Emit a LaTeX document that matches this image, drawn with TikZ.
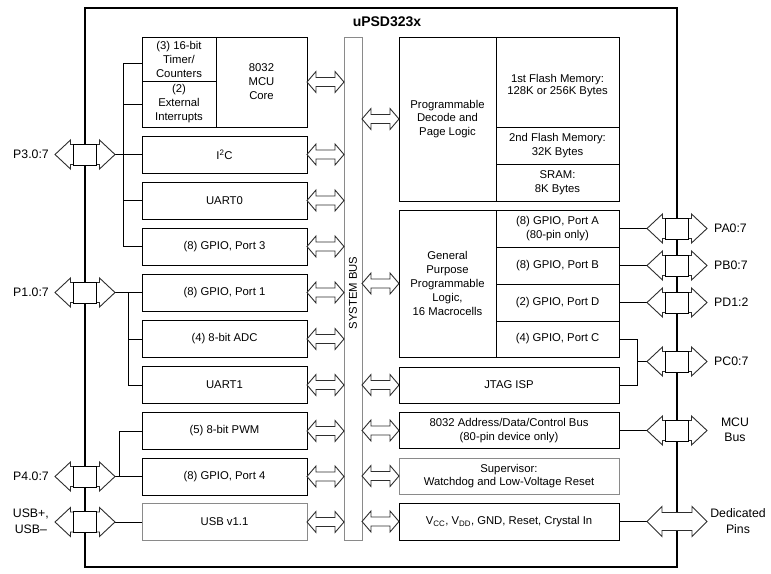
\documentclass[tikz,border=0pt]{standalone}
\usepackage{fontspec}
\setmainfont{Liberation Sans}
\usetikzlibrary{calc}
\definecolor{grayline}{HTML}{8A8A8A}
\definecolor{arrline}{HTML}{2E2E2E}
\newcommand\fs{\fontsize{11.3}{13.8}\selectfont}
\newcommand\fsp{\fontsize{12.3}{14.5}\selectfont}
% double block arrow: #1 style, #2 left point, #3 right point, #4 head length, #5 half head, #6 half shaft
\newcommand\dbar[6][]{%
  \path[blockarrow,#1] let \p1=#2, \p2=#3 in
    (\x1,\y1) -- (\x1+#4,\y1+#5) -- (\x1+#4,\y1+#6) -- (\x2-#4,\y1+#6) -- (\x2-#4,\y1+#5)
    -- (\x2,\y1) -- (\x2-#4,\y1-#5) -- (\x2-#4,\y1-#6) -- (\x1+#4,\y1-#6) -- (\x1+#4,\y1-#5) -- cycle;}
\newcommand\busarrow[2]{\dbar{#1}{#2}{9pt}{10.5pt}{4.5pt}}
\newcommand\pinarrow[2]{\dbar{#1}{#2}{15.5pt}{14.5pt}{10pt}}
\begin{document}
\begin{tikzpicture}[x=1pt,y=-1pt,
  blk/.style={draw=black, line width=0.9pt, inner sep=0pt, outer sep=0pt, align=center, font=\fs},
  gblk/.style={blk, draw=grayline},
  wire/.style={draw=black, line width=0.9pt},
  blockarrow/.style={draw=arrline, fill=white, line width=0.9pt, line join=miter},
  pinbox/.style={draw=black, fill=white, line width=0.9pt, minimum width=23pt, minimum height=21pt, inner sep=0pt, outer sep=0pt},
  pinlbl/.style={font=\fsp, align=center, inner sep=0pt}
]
\useasboundingbox (0,0) rectangle (771,573);
\fill[white] (0,0) rectangle (771,573);

% chip outline
\node[draw=black, line width=2pt, minimum width=592pt, minimum height=559.5pt, inner sep=0pt] (chip) at (381,287.25) {};
\node[font=\fontsize{14}{16}\selectfont\bfseries] (title) at (387,22) {uPSD323x};

% system bus
\node[draw=grayline, line width=0.9pt, minimum width=18pt, minimum height=503pt, inner sep=0pt, outer sep=0pt] (bus) at (353,288.5) {};
\node[rotate=90, font=\fs] (bustext) at (353,293) {SYSTEM BUS};

% left column
\node[blk, minimum width=74pt, minimum height=44pt, font=\fontsize{11.3}{14}\selectfont] (timer) at (179,59) {(3) 16-bit\\Timer/\\Counters};
\node[blk, minimum width=74pt, minimum height=46pt, font=\fontsize{11.3}{14}\selectfont] (extint) at (179,104) {(2)\\External\\Interrupts};
\node[blk, minimum width=91pt, minimum height=90pt, font=\fontsize{11.3}{14}\selectfont] (core) at (261.5,82) {8032\\MCU\\Core};
\node[blk, minimum width=165pt, minimum height=37pt] (i2c) at (224.5,154.5) {I\textsuperscript{2}C};
\node[blk, minimum width=165pt, minimum height=37pt] (uart0) at (224.5,200.5) {UART0};
\node[blk, minimum width=165pt, minimum height=37pt] (gpio3) at (224.5,246.5) {(8) GPIO, Port 3};
\node[blk, minimum width=165pt, minimum height=37pt] (gpio1) at (224.5,292.5) {(8) GPIO, Port 1};
\node[blk, minimum width=165pt, minimum height=37pt] (adc) at (224.5,339) {(4) 8-bit ADC};
\node[blk, minimum width=165pt, minimum height=37pt] (uart1) at (224.5,385) {UART1};
\node[blk, minimum width=165pt, minimum height=37pt] (pwm) at (224.5,431) {(5) 8-bit PWM};
\node[blk, minimum width=165pt, minimum height=37pt] (gpio4) at (224.5,476.5) {(8) GPIO, Port 4};
\node[gblk, minimum width=165pt, minimum height=37pt] (usb) at (224.5,522) {USB v1.1};

% right column
\node[blk, minimum width=97pt, minimum height=164pt, font=\fontsize{11.3}{13.8}\selectfont] (pdpl) at (447.5,119) {Programmable\\Decode and\\Page Logic};
\node[blk, minimum width=123pt, minimum height=90pt] (flash1) at (557.5,82) {};
\node[font=\fontsize{11.3}{12}\selectfont, align=center, inner sep=0pt] (flash1text) at (557.5,86) {1st Flash Memory:\\128K or 256K Bytes};
\node[blk, minimum width=123pt, minimum height=37pt] (flash2) at (557.5,145.5) {2nd Flash Memory:\\32K Bytes};
\node[blk, minimum width=123pt, minimum height=37pt] (sram) at (557.5,182.5) {SRAM:\\8K Bytes};
\node[blk, minimum width=97pt, minimum height=147pt, font=\fontsize{11.3}{13.8}\selectfont] (gpld) at (447.5,283.5) {General\\Purpose\\Programmable\\Logic,\\16 Macrocells};
\node[blk, minimum width=123pt, minimum height=37pt] (porta) at (557.5,228.5) {(8) GPIO, Port A\\(80-pin only)};
\node[blk, minimum width=123pt, minimum height=37pt] (portb) at (557.5,265.5) {(8) GPIO, Port B};
\node[blk, minimum width=123pt, minimum height=37pt] (portd) at (557.5,302.5) {(2) GPIO, Port D};
\node[blk, minimum width=123pt, minimum height=36pt] (portc) at (557.5,339) {(4) GPIO, Port C};
\node[blk, minimum width=220pt, minimum height=36pt] (jtag) at (509,385) {JTAG ISP};
\node[blk, minimum width=220pt, minimum height=35.5pt, font=\fontsize{11.3}{13.2}\selectfont] (addr) at (509,430.5) {8032 Address/Data/Control Bus\\(80-pin device only)};
\node[gblk, minimum width=220pt, minimum height=36pt, font=\fontsize{11.3}{13.2}\selectfont] (sup) at (509,476) {Supervisor:\\Watchdog and Low-Voltage Reset};
\node[blk, minimum width=220pt, minimum height=37pt] (vcc) at (509,521.5) {V\textsubscript{CC}, V\textsubscript{DD}, GND, Reset, Crystal In};

% bus arrows, left side
\busarrow{(core.east)}{(bus.west |- core.east)}
\busarrow{(i2c.east)}{(bus.west |- i2c.east)}
\busarrow{(uart0.east)}{(bus.west |- uart0.east)}
\busarrow{(gpio3.east)}{(bus.west |- gpio3.east)}
\busarrow{(gpio1.east)}{(bus.west |- gpio1.east)}
\busarrow{(adc.east)}{(bus.west |- adc.east)}
\busarrow{(uart1.east)}{(bus.west |- uart1.east)}
\busarrow{(pwm.east)}{(bus.west |- pwm.east)}
\busarrow{(gpio4.east)}{(bus.west |- gpio4.east)}
\busarrow{(usb.east)}{(bus.west |- usb.east)}
% bus arrows, right side
\busarrow{(bus.east |- pdpl.west)}{(pdpl.west)}
\busarrow{(bus.east |- gpld.west)}{(gpld.west)}
\busarrow{(bus.east |- jtag.west)}{(jtag.west)}
\busarrow{(bus.east |- addr.west)}{(addr.west)}
\busarrow{(bus.east |- sup.west)}{(sup.west)}
\busarrow{(bus.east |- vcc.west)}{(vcc.west)}

% pin coordinates
\coordinate (p3l) at (55,154.5);  \coordinate (p3r) at (115,154.5);
\coordinate (p1l) at (55,292.5);  \coordinate (p1r) at (115,292.5);
\coordinate (p4l) at (55,476.5);  \coordinate (p4r) at (115,476.5);
\coordinate (usbl) at (55,522);   \coordinate (usbr) at (115,522);
\coordinate (pal) at (647,228.5); \coordinate (par) at (707,228.5);
\coordinate (pbl) at (647,265.5); \coordinate (pbr) at (707,265.5);
\coordinate (pdl) at (647,302.5); \coordinate (pdr) at (707,302.5);
\coordinate (pcl) at (647,361.5); \coordinate (pcr) at (707,361.5);
\coordinate (mcul) at (647,430.5); \coordinate (mcur) at (707,430.5);
\coordinate (dedl) at (647,521.5); \coordinate (dedr) at (707,521.5);

% wiring, port 3
\coordinate (j3top) at (123,63);
\coordinate (j3bot) at (123,246.5);
\draw[wire] (j3top -| timer.west) -- (j3top) -- (j3bot) -- (gpio3.west);
\draw[wire] (j3top |- extint.west) -- (extint.west);
\draw[wire] (j3top |- uart0.west) -- (uart0.west);
\draw[wire] (p3r) -- (i2c.west);
% port 1
\coordinate (j1top) at (128,292.5);
\coordinate (j1bot) at (128,385);
\draw[wire] (p1r) -- (gpio1.west);
\draw[wire] (j1top) -- (j1bot) -- (uart1.west);
\draw[wire] (j1top |- adc.west) -- (adc.west);
% port 4
\coordinate (j4) at (119,431);
\draw[wire] (p4r) -- (gpio4.west);
\draw[wire] (p4r -| j4) -- (j4) -- (pwm.west);
% usb
\draw[wire] (usbr) -- (usb.west);
% right side
\draw[wire] (porta.east) -- (pal);
\draw[wire] (portb.east) -- (pbl);
\draw[wire] (portd.east) -- (pdl);
\coordinate (jc) at (637,339);
\draw[wire] (portc.east) -- (jc) -- (jc |- jtag.east) -- (jtag.east);
\draw[wire] (jc |- pcl) -- (pcl);
\draw[wire] (addr.east) -- (mcul);
\draw[wire] (vcc.east) -- (dedl);

% pin arrows and boxes
\pinarrow{(p3l)}{(p3r)}
\pinarrow{(p1l)}{(p1r)}
\pinarrow{(p4l)}{(p4r)}
\pinarrow{(usbl)}{(usbr)}
\pinarrow{(pal)}{(par)}
\pinarrow{(pbl)}{(pbr)}
\pinarrow{(pdl)}{(pdr)}
\pinarrow{(pcl)}{(pcr)}
\pinarrow{(mcul)}{(mcur)}
\dbar{(dedl)}{(dedr)}{15pt}{15pt}{9pt}

\node[pinbox] (p3box) at (84.5,154.5) {};
\node[pinbox] (p1box) at (84.5,292.5) {};
\node[pinbox] (p4box) at (84.5,476.5) {};
\node[pinbox] (usbbox) at (84.5,522) {};
\node[pinbox] (pabox) at (676.5,228.5) {};
\node[pinbox] (pbbox) at (676.5,265.5) {};
\node[pinbox] (pdbox) at (676.5,302.5) {};
\node[pinbox] (pcbox) at (676.5,361.5) {};
\node[pinbox] (mcubox) at (676.5,430.5) {};

% pin labels
\node[pinlbl, anchor=east] (p3lbl) at (49,154.5) {P3.0:7};
\node[pinlbl, anchor=east] (p1lbl) at (49,292.5) {P1.0:7};
\node[pinlbl, anchor=east] (p4lbl) at (49,476.5) {P4.0:7};
\node[pinlbl, anchor=east, font=\fontsize{12.3}{16}\selectfont] (usblbl) at (49,521) {USB+,\\USB--};
\node[pinlbl, anchor=west] (palbl) at (714,228.5) {PA0:7};
\node[pinlbl, anchor=west] (pblbl) at (714,265.5) {PB0:7};
\node[pinlbl, anchor=west] (pdlbl) at (714,302.5) {PD1:2};
\node[pinlbl, anchor=west] (pclbl) at (714,361.5) {PC0:7};
\node[pinlbl] (mculbl) at (735,430) {MCU\\Bus};
\node[pinlbl, font=\fontsize{12.3}{15.5}\selectfont] (dedlbl) at (738,521) {Dedicated\\Pins};
\end{tikzpicture}
\end{document}
